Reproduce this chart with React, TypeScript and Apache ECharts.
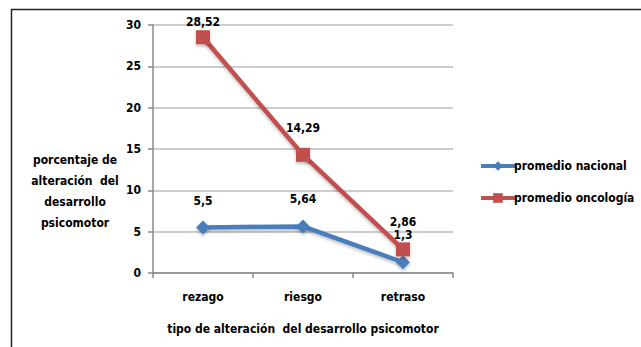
import React, { useEffect, useRef } from "react";
import * as echarts from "echarts";

const categories = ["rezago", "riesgo", "retraso"];
const promedioNacional = [5.5, 5.64, 1.3];
const promedioOncologia = [28.52, 14.29, 2.86];
const yTicks = { min: 0, max: 30, interval: 5 };

const FONT = "'Liberation Sans Narrow', 'DejaVu Sans Condensed', 'DejaVu Sans', sans-serif";
const fmt = (v: number) => String(v).replace(".", ",");

export default function App() {
  const ref = useRef<HTMLDivElement>(null);
  useEffect(() => {
    if (!ref.current) return;
    const chart = echarts.init(ref.current, undefined, { renderer: "svg" });
    const labelStyle = {
      show: true,
      position: "top" as const,
      distance: 14,
      color: "#000",
      fontFamily: FONT,
      fontWeight: "bold" as const,
      fontSize: 12,
      formatter: (p: any) => fmt(p.value),
    };
    const shadow = { shadowColor: "rgba(0,0,0,0.25)", shadowBlur: 3, shadowOffsetY: 2 };
    chart.setOption({
      animation: false,
      backgroundColor: "#fff",
      textStyle: { fontFamily: FONT, fontWeight: "bold", color: "#000" },
      grid: { left: 153, right: 188, top: 25, bottom: 74 },
      legend: {
        orient: "vertical",
        left: 474,
        top: 155,
        itemWidth: 34,
        itemHeight: 12,
        itemGap: 20,
        lineStyle: { width: 4 },
        textStyle: { fontFamily: FONT, fontWeight: "bold", fontSize: 12, color: "#000", padding: [0, 0, 0, -6] },
        data: ["promedio nacional", "promedio oncología"],
      },
      xAxis: {
        type: "category",
        data: categories,
        boundaryGap: true,
        name: "tipo de alteración  del desarrollo psicomotor",
        nameLocation: "middle",
        nameGap: 50,
        nameTextStyle: { fontFamily: FONT, fontWeight: "bold", fontSize: 12, color: "#000" },
        axisLine: { lineStyle: { color: "#888", width: 1.5 } },
        axisTick: { show: true, length: 5, lineStyle: { color: "#888", width: 1.5 } },
        axisLabel: { margin: 18, fontFamily: FONT, fontWeight: "bold", fontSize: 12, color: "#000" },
      },
      yAxis: {
        type: "value",
        min: yTicks.min,
        max: yTicks.max,
        interval: yTicks.interval,
        axisLine: { show: true, lineStyle: { color: "#888", width: 1.5 } },
        axisTick: { show: true, length: 5, lineStyle: { color: "#888", width: 1.5 } },
        axisLabel: { margin: 12, fontFamily: FONT, fontWeight: "bold", fontSize: 12, color: "#000" },
        splitLine: { lineStyle: { color: "#bdbdbd", width: 1.5 } },
      },
      graphic: [
        {
          type: "rect",
          shape: { x: 11.5, y: 9.5, width: 700, height: 400 },
          style: { fill: "none", stroke: "#222", lineWidth: 1.5 },
          silent: true,
        },
        {
          type: "text",
          x: 75,
          y: 149,
          style: {
            text: "porcentaje de\nalteración  del\ndesarrollo\npsicomotor",
            fontFamily: FONT,
            fontWeight: "bold",
            fontSize: 12,
            lineHeight: 21,
            fill: "#000",
            align: "center",
            textAlign: "center",
          },
        },
      ],
      series: [
        {
          name: "promedio nacional",
          type: "line",
          data: promedioNacional,
          symbol: "diamond",
          symbolSize: 14,
          lineStyle: { color: "#4a7ebb", width: 4.5, ...shadow },
          itemStyle: { color: "#4a7ebb", ...shadow },
          label: { ...labelStyle },
          z: 3,
        },
        {
          name: "promedio oncología",
          type: "line",
          data: promedioOncologia.map((v, i) =>
            i === 0 ? { value: v, label: { distance: 2 } } : v
          ),
          symbol: "rect",
          symbolSize: 14,
          lineStyle: { color: "#c0504d", width: 4.5, ...shadow },
          itemStyle: { color: "#c0504d", ...shadow },
          label: { ...labelStyle },
          z: 4,
        },
      ],
    });
    return () => chart.dispose();
  }, []);
  return (
    <div
      ref={ref}
      style={{ position: "fixed", left: 0, top: 0, width: 641, height: 347 }}
    />
  );
}
